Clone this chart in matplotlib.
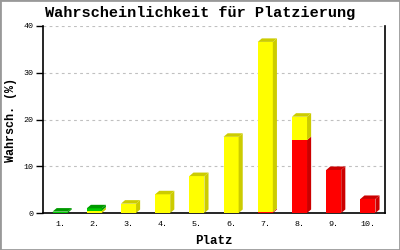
import matplotlib
matplotlib.use("Agg")
import matplotlib.pyplot as plt
from matplotlib.patches import Polygon, Rectangle

# data (percent per placement)
places = ["1.", "2.", "3.", "4.", "5.", "6.", "7.", "8.", "9.", "10."]
red_vals = [0, 0, 0, 0, 0, 0, 0.2, 15.6, 9.2, 3.0]
yellow_vals = [0, 0.5, 2.0, 4.0, 7.9, 16.3, 36.4, 5.0, 0, 0]
green_vals = [0.3, 0.5, 0, 0, 0, 0, 0, 0, 0, 0]

series = [(red_vals, "#ff0000", "#cc0000"),
          (yellow_vals, "#ffff00", "#cccc00"),
          (green_vals, "#00cc00", "#009900")]

mono = "Liberation Mono"

fig = plt.figure(figsize=(4, 2.5), dpi=100)
ax = fig.add_axes([0.1075, 0.148, 0.855, 0.748])

x = list(range(1, len(places) + 1))
width = 0.44
dx, dy = 0.12, 0.75   # depth of the fake 3d effect, in data units

bottoms = [0.0] * len(places)
tops = [0.0] * len(places)
for vals, _, _ in series:
    for i, v in enumerate(vals):
        tops[i] += v

for vals, front, dark in series:
    ax.bar(x, vals, width=width, bottom=bottoms, color=front, linewidth=0, zorder=3)
    for i, v in enumerate(vals):
        if v <= 0:
            continue
        x1 = x[i] + width / 2
        x0 = x[i] - width / 2
        b = bottoms[i]
        t = b + v
        side = Polygon([(x1, b), (x1 + dx, b + dy), (x1 + dx, t + dy), (x1, t)],
                       closed=True, facecolor=dark, edgecolor="none", zorder=3)
        ax.add_patch(side)
        if abs(t - tops[i]) < 1e-9:
            top = Polygon([(x0, t), (x0 + dx, t + dy), (x1 + dx, t + dy), (x1, t)],
                          closed=True, facecolor=dark, edgecolor="none", zorder=3)
            ax.add_patch(top)
    bottoms = [bottoms[i] + vals[i] for i in range(len(vals))]

ax.set_xlim(0.5, 10.5)
ax.set_ylim(0, 40)
ax.set_yticks([0, 10, 20, 30, 40])
ax.set_xticks(x)
ax.set_xticklabels(places, fontfamily=mono, fontsize=6)
for lab in ax.get_yticklabels():
    lab.set_fontfamily(mono)
    lab.set_fontsize(6)
ax.tick_params(axis="x", length=0, pad=6)
ax.tick_params(axis="y", length=5, width=1, pad=2)
ax.yaxis.grid(True, linestyle=(0, (2.5, 3)), color="#c0c0c0", linewidth=0.8, zorder=0)
ax.set_axisbelow(True)

ax.spines["top"].set_visible(False)
for s in ["left", "bottom", "right"]:
    ax.spines[s].set_linewidth(1.2)
    ax.spines[s].set_color("black")

ax.set_xlabel("Platz", fontfamily=mono, fontweight="bold", fontsize=9)
ax.xaxis.set_label_coords(0.5, -0.115)
ax.set_ylabel("Wahrsch. (%)", fontfamily=mono, fontweight="bold", fontsize=8.5)
ax.yaxis.set_label_coords(-0.075, 0.5)
fig.text(0.5, 0.948, "Wahrscheinlichkeit für Platzierung", ha="center", va="center",
         fontfamily=mono, fontweight="bold", fontsize=11)

# grey frame round the whole picture
fig.patches.append(Rectangle((0, 0), 1, 1, transform=fig.transFigure, fill=False,
                             edgecolor="#999999", linewidth=2))

fig.savefig("out.png", dpi=100)
